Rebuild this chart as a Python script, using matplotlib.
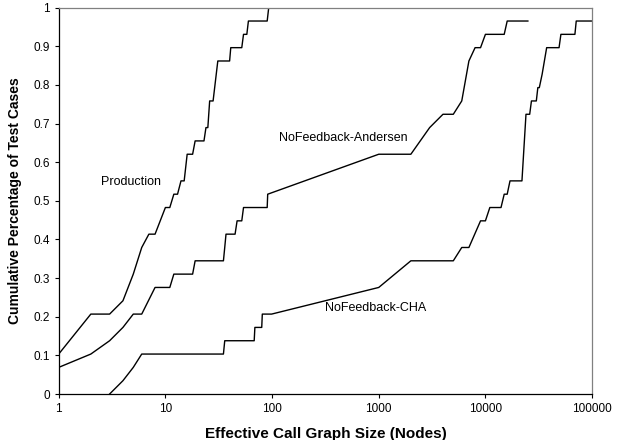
import matplotlib
matplotlib.use("Agg")
import matplotlib.pyplot as plt
from matplotlib.ticker import FixedLocator, FixedFormatter

plt.rcParams['font.family'] = ['Liberation Sans', 'DejaVu Sans']

N = 29  # number of test cases

# Production
prod_x = [1, 2, 3, 4, 5, 6, 7, 8, 10, 11, 12, 13, 14, 15, 16, 18, 19, 23, 24, 25,
          26, 28, 31, 40, 41, 52, 54, 58, 60, 90, 93]
prod_k = [3, 6, 6, 7, 9, 11, 12, 12, 14, 14, 15, 15, 16, 16, 18, 18, 19, 19, 20, 20,
          22, 22, 25, 25, 26, 26, 27, 27, 28, 28, 29]

# NoFeedback-Andersen
and_x = [1, 2, 3, 4, 5, 6, 8, 11, 12, 18, 19, 35, 36, 37, 45, 47, 52, 54, 90, 91,
         1000, 2000, 3000, 4000, 5000, 6000, 7000, 8000, 9000, 10000, 15000, 16000, 25000]
and_k = [2, 3, 4, 5, 6, 6, 8, 8, 9, 9, 10, 10, 11, 12, 12, 13, 13, 14, 14, 15,
         18, 18, 20, 21, 21, 22, 25, 26, 26, 27, 27, 28, 28]

# NoFeedback-CHA
cha_x = [3, 4, 5, 6, 35, 36, 68, 69, 80, 81, 99, 1000, 2000, 5000, 6000, 7000, 9000,
         10000, 11000, 14000, 15000, 16000, 17000, 22000, 24000, 26000, 27000, 30000,
         31000, 32000, 34000, 37500, 49000, 51000, 69000, 71000, 100000]
cha_k = [0, 1, 2, 3, 3, 4, 4, 5, 5, 6, 6, 8, 10, 10, 11, 11, 13,
         13, 14, 14, 15, 15, 16, 16, 21, 21, 22, 22,
         23, 23, 24, 26, 26, 27, 27, 28, 28]

x_ticks = [1, 10, 100, 1000, 10000, 100000]
y_ticks = [0, 0.1, 0.2, 0.3, 0.4, 0.5, 0.6, 0.7, 0.8, 0.9, 1]
y_labels = ['0', '0.1', '0.2', '0.3', '0.4', '0.5', '0.6', '0.7', '0.8', '0.9', '1']

fig = plt.figure(figsize=(6.2, 4.4), dpi=100)
ax = fig.add_axes([0.0947, 0.1045, 0.8603, 0.878])

for xs, ks in [(prod_x, prod_k), (and_x, and_k), (cha_x, cha_k)]:
    ax.plot(xs, [k / N for k in ks], color='black', linewidth=1.0)

ax.set_xscale('log')
ax.set_xlim(1, 100000)
ax.set_ylim(0, 1)
ax.xaxis.set_major_locator(FixedLocator(x_ticks))
ax.xaxis.set_major_formatter(FixedFormatter([str(v) for v in x_ticks]))
ax.xaxis.set_minor_locator(FixedLocator([]))
ax.set_yticks(y_ticks)
ax.set_yticklabels(y_labels)
ax.tick_params(direction='out', length=3, width=0.8, labelsize=8.5, colors='black')

for s in ['top', 'right']:
    ax.spines[s].set_color('#808080')
for s in ax.spines.values():
    s.set_linewidth(0.9)

ax.set_xlabel('Effective Call Graph Size (Nodes)', fontsize=11, fontweight='bold')
ax.set_ylabel('Cumulative Percentage of Test Cases', fontsize=10, fontweight='bold')
ax.xaxis.set_label_coords(0.5, -0.085)
ax.yaxis.set_label_coords(-0.068, 0.5)

ax.text(4.8, 0.549, 'Production', fontsize=9, ha='center', va='center')
ax.text(470, 0.664, 'NoFeedback-Andersen', fontsize=9, ha='center', va='center')
ax.text(940, 0.222, 'NoFeedback-CHA', fontsize=9, ha='center', va='center')

fig.savefig('out.png', dpi=100)
